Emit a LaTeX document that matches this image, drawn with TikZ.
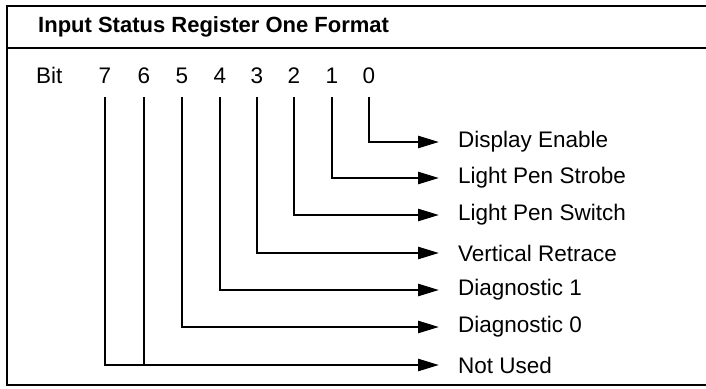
\documentclass[tikz,border=0pt]{standalone}
\usepackage{fontspec}
\setmainfont{Liberation Sans}
\usetikzlibrary{arrows.meta}
\tikzset{
  frameline/.style={line width=2.6pt},
  conn/.style={line width=2.6pt, line join=miter, -{Triangle[length=21pt,width=12pt]}},
  plain/.style={line width=2.6pt},
  digit/.style={inner sep=0pt, text height=16pt, text depth=0pt, font=\fontsize{22.5}{26}\selectfont, anchor=center},
  lbl/.style={anchor=west, inner xsep=19pt, inner ysep=0pt, font=\fontsize{22.5}{26}\selectfont},
  ttl/.style={anchor=west, inner sep=0pt, font=\fontsize{22}{26}\selectfont\bfseries},
  bitlbl/.style={anchor=west, inner sep=0pt, font=\fontsize{22.5}{26}\selectfont}
}
\begin{document}
\begin{tikzpicture}[x=1pt,y=-1pt]
\useasboundingbox (0,0) rectangle (706,388);
% frame
\draw[frameline] (706,6) -- (7,6) -- (7,385) -- (706,385);
\draw[frameline] (7,48) -- (706,48);
% title
\node[ttl] (title) at (38,27) {Input Status Register One Format};
% bit row
\node[bitlbl] (bit) at (36,75) {Bit};
\foreach \n/\x in {7/105,6/144,5/182,4/220,3/257,2/294,1/332,0/369}{
  \node[digit] (d\n) at (\x,75) {\n};
}
% labels
\node[lbl] (l0) at (439,142) {Display Enable};
\node[lbl] (l1) at (439,178) {Light Pen Strobe};
\node[lbl] (l2) at (439,215) {Light Pen Switch};
\node[lbl] (l3) at (439,253) {Vertical Retrace};
\node[lbl] (l4) at (439,290) {Diagnostic 1};
\node[lbl] (l5) at (439,327) {Diagnostic 0};
\node[lbl] (l7) at (439,365) {Not Used};
% connectors
\foreach \n/\m in {0/0,1/1,2/2,3/3,4/4,5/5,7/7}{
  \draw[conn, shorten <=14pt] (d\n.south) |- (l\m.west);
}
\draw[plain, shorten <=14pt] (d6.south) -- (d6.south |- l7.west);
\end{tikzpicture}
\end{document}
